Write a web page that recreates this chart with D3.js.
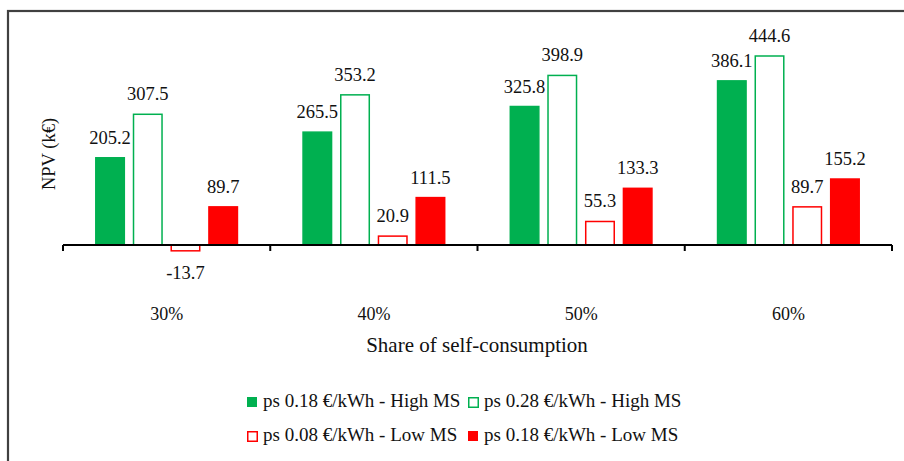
<!DOCTYPE html>
<meta charset="utf-8">
<style>
    body { margin: 0; background: #fff; }
    svg text { font-family: "Liberation Serif", "Times New Roman", serif; fill: #111; }
</style>
<body>
<script src="https://cdn.jsdelivr.net/npm/d3@7"></script>
<script>
    // data
    var categories = ["30%", "40%", "50%", "60%"];
    var seriesNames = [
        "ps 0.18 €/kWh - High MS",
        "ps 0.28 €/kWh - High MS",
        "ps 0.08 €/kWh - Low MS",
        "ps 0.18 €/kWh - Low MS"
    ];
    var highMs018 = [205.2, 265.5, 325.8, 386.1];
    var highMs028 = [307.5, 353.2, 398.9, 444.6];
    var lowMs008 = [-13.7, 20.9, 55.3, 89.7];
    var lowMs018 = [89.7, 111.5, 133.3, 155.2];

    var green = "#00b050", red = "#ff0000";
    var styles = [
        { fill: green, stroke: green },
        { fill: "#fff", stroke: green },
        { fill: "#fff", stroke: red },
        { fill: red, stroke: red }
    ];

    var width = 904, height = 461;

    var svg = d3.select("body").append("svg")
        .attr("width", width)
        .attr("height", height);

    // frame (only left + top are in view)
    svg.append("rect")
        .attr("x", 8).attr("y", 11)
        .attr("width", 1000).attr("height", 600)
        .attr("fill", "none")
        .attr("stroke", "#404040")
        .attr("stroke-width", 2.2);

    var x0 = d3.scaleBand()
        .domain(categories)
        .range([63, 892])
        .padding(0);

    var x1 = d3.scaleBand()
        .domain(d3.range(4))
        .range([0, x0.bandwidth()])
        .paddingInner(0.204)
        .paddingOuter(0.85);

    var y = d3.scaleLinear()
        .domain([0, 444.6])
        .range([245, 56]);

    var rows = [];
    var series = [highMs018, highMs028, lowMs008, lowMs018];
    categories.forEach(function (c, i) {
        series.forEach(function (s, j) {
            rows.push({ cat: c, k: j, v: s[i] });
        });
    });

    var g = svg.append("g");

    g.selectAll("rect.bar")
        .data(rows)
        .enter().append("rect")
        .attr("class", "bar")
        .attr("x", function (d) { return x0(d.cat) + x1(d.k) + 0.75; })
        .attr("width", x1.bandwidth() - 1.5)
        .attr("y", function (d) { return Math.min(y(d.v), y(0)); })
        .attr("height", function (d) { return Math.abs(y(d.v) - y(0)); })
        .attr("fill", function (d) { return styles[d.k].fill; })
        .attr("stroke", function (d) { return styles[d.k].stroke; })
        .attr("stroke-width", 1.5);

    g.selectAll("text.val")
        .data(rows)
        .enter().append("text")
        .attr("class", "val")
        .attr("x", function (d) { return x0(d.cat) + x1(d.k) + x1.bandwidth() / 2; })
        .attr("y", function (d) { return d.v >= 0 ? y(d.v) - 14 : y(d.v) + 28; })
        .attr("text-anchor", "middle")
        .style("font-size", "18.5px")
        .text(function (d) { return d.v.toFixed(1); });

    // x axis line with ticks between groups
    var axis = d3.axisBottom(x0).tickSize(0).tickFormat("");
    var ax = svg.append("g")
        .attr("transform", "translate(0," + y(0) + ")")
        .call(axis);
    ax.select(".domain").remove();
    ax.append("line")
        .attr("x1", 63).attr("x2", 892)
        .attr("stroke", "#000").attr("stroke-width", 2);
    ax.selectAll("line.sep")
        .data(categories.map(function (c) { return x0(c); }).concat([892]))
        .enter().append("line")
        .attr("class", "sep")
        .attr("x1", function (d) { return d; })
        .attr("x2", function (d) { return d; })
        .attr("y1", 0).attr("y2", 6)
        .attr("stroke", "#000").attr("stroke-width", 2);

    svg.selectAll("text.cat")
        .data(categories)
        .enter().append("text")
        .attr("class", "cat")
        .attr("x", function (d) { return x0(d) + x0.bandwidth() / 2; })
        .attr("y", 320)
        .attr("text-anchor", "middle")
        .style("font-size", "18px")
        .text(function (d) { return d; });

    svg.append("text")
        .attr("x", 477).attr("y", 352)
        .attr("text-anchor", "middle")
        .style("font-size", "21px")
        .text("Share of self-consumption");

    svg.append("text")
        .attr("transform", "translate(55,154) rotate(-90)")
        .attr("text-anchor", "middle")
        .style("font-size", "18.5px")
        .text("NPV (k€)");

    // legend, two rows of two
    var legendPos = [
        { x: 247, y: 397 }, { x: 468, y: 397 },
        { x: 247, y: 431 }, { x: 468, y: 431 }
    ];
    var leg = svg.selectAll("g.leg")
        .data(seriesNames)
        .enter().append("g")
        .attr("class", "leg")
        .attr("transform", function (d, i) { return "translate(" + legendPos[i].x + "," + legendPos[i].y + ")"; });
    leg.append("rect")
        .attr("x", function (d, i) { return styles[i].fill === "#fff" ? 0.75 : 0; })
        .attr("y", function (d, i) { return styles[i].fill === "#fff" ? 0.75 : 0; })
        .attr("width", function (d, i) { return styles[i].fill === "#fff" ? 9.5 : 10; })
        .attr("height", function (d, i) { return styles[i].fill === "#fff" ? 9.5 : 10; })
        .attr("fill", function (d, i) { return styles[i].fill; })
        .attr("stroke", function (d, i) { return styles[i].fill === "#fff" ? styles[i].stroke : "none"; })
        .attr("stroke-width", 1.5);
    leg.append("text")
        .attr("x", 16).attr("y", 10)
        .style("font-size", "19px")
        .text(function (d) { return d; });
</script>
</body>
